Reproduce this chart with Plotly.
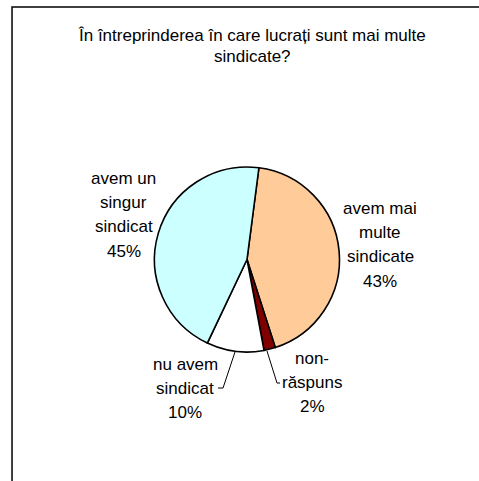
import plotly.graph_objects as go

W, H = 479, 481

title_lines = ["În întreprinderea în care lucrați sunt mai multe", "sindicate?"]
labels = ["avem mai multe sindicate", "non-răspuns", "nu avem sindicat", "avem un singur sindicat"]
label_lines = [["avem mai", "multe", "sindicate"], ["non-", "răspuns"], ["nu avem", "sindicat"],
               ["avem un", "singur", "sindicat"]]
values = [43, 2, 10, 45]
colors = ["#FFCC99", "#800000", "#FFFFFF", "#CCFFFF"]


def px(x, y):
    # pixel position -> paper coordinates
    return x / W, 1 - y / H


fig = go.Figure()
fig.add_trace(go.Pie(
    labels=labels,
    values=values,
    sort=False,
    direction="clockwise",
    rotation=7.4,
    marker=dict(colors=colors, line=dict(color="black", width=1.6)),
    textinfo="none",
    hoverinfo="skip",
    showlegend=False,
    domain=dict(x=[154 / W, 340 / W], y=[1 - 352 / H, 1 - 167 / H]),
))

font = dict(family="Liberation Sans, Arial, sans-serif", size=17, color="black")


def text_block(lines, cx, first_baseline, step):
    # one annotation per line so the line spacing follows the original
    for i, line in enumerate(lines):
        ax, ay = px(cx, first_baseline + i * step - 5)
        fig.add_annotation(x=ax, y=ay, xref="paper", yref="paper", text=line,
                           showarrow=False, font=font, xanchor="center", yanchor="middle")


# label x centre and first baseline (pixels)
label_pos = [(380, 213), (312, 363), (185, 369), (124, 183)]
for lines, v, (lx, ly) in zip(label_lines, values, label_pos):
    text_block(lines + [f"{v}%"], lx, ly, 24.4)

text_block(title_lines, 252, 40, 21.8)

# leader lines for the small slices
leaders = [[(235, 352), (223, 388), (218, 388)], [(267, 351), (277, 383), (280, 383)]]
for pts in leaders:
    path = "M " + " L ".join(f"{px(x, y)[0]:.4f},{px(x, y)[1]:.4f}" for x, y in pts)
    fig.add_shape(type="path", path=path, xref="paper", yref="paper",
                  line=dict(color="black", width=1))

# chart frame (top and left edges visible), drawn as one open path
x0, y0 = px(12, 7)
fig.add_shape(type="path", xref="paper", yref="paper",
              path=f"M 1,{y0:.4f} L {x0:.4f},{y0:.4f} L {x0:.4f},0",
              line=dict(color="black", width=1.5))

fig.update_layout(
    width=W, height=H,
    margin=dict(l=0, r=0, t=0, b=0),
    paper_bgcolor="white",
    plot_bgcolor="white",
)

fig.write_html("out.html", config={"displayModeBar": False},
               post_script="document.body.style.margin='0';document.body.style.overflow='hidden';")
